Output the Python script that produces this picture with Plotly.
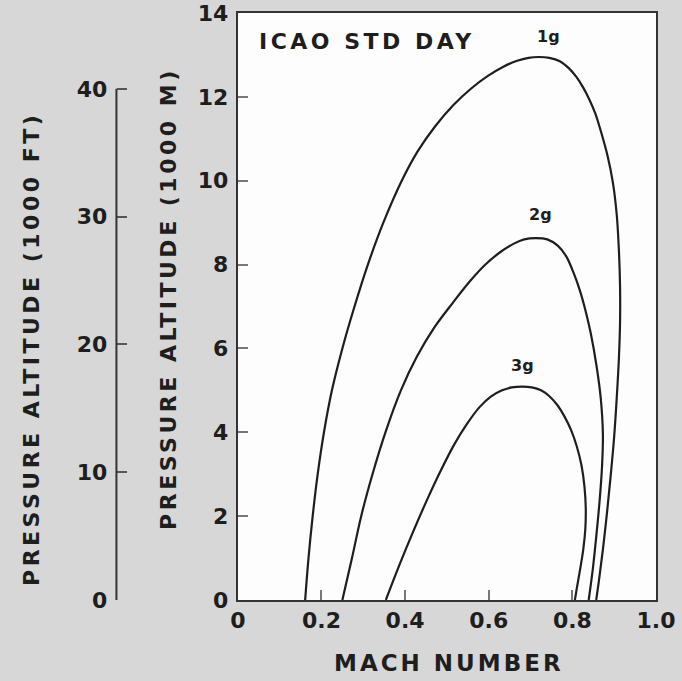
import plotly.graph_objects as go

# Load-factor boundaries: Mach number vs pressure altitude (1000 m)
mach_1g = [0.161, 0.169, 0.179, 0.191, 0.206, 0.225, 0.250, 0.279, 0.311, 0.348, 0.392,
           0.430, 0.472, 0.515, 0.558, 0.598, 0.635, 0.668, 0.695, 0.720,
           0.745, 0.770, 0.792, 0.810, 0.826, 0.840, 0.855, 0.869, 0.884, 0.897, 0.906,
           0.911, 0.914, 0.914, 0.911, 0.906, 0.900, 0.892, 0.883, 0.873, 0.864, 0.857]
alt_1g = [0.0, 1.0, 2.0, 3.0, 4.0, 5.0, 6.0, 7.0, 8.0, 9.0, 10.0,
          10.7, 11.3, 11.8, 12.2, 12.5, 12.72, 12.86, 12.93, 12.95,
          12.93, 12.85, 12.68, 12.47, 12.22, 11.95, 11.6, 11.15, 10.6, 9.95, 9.2,
          8.4, 7.5, 6.6, 5.7, 4.8, 3.9, 3.0, 2.1, 1.2, 0.5, 0.0]

mach_2g = [0.250, 0.273, 0.295, 0.322, 0.353, 0.390, 0.428, 0.470, 0.515, 0.555, 0.592,
           0.628, 0.660, 0.685, 0.712,
           0.740, 0.765, 0.785, 0.803, 0.819, 0.8315, 0.844, 0.858, 0.868, 0.873, 0.871,
           0.865, 0.857, 0.849, 0.839]
alt_2g = [0.0, 1.0, 2.0, 3.0, 4.0, 5.0, 5.8, 6.5, 7.1, 7.6, 8.0,
          8.3, 8.5, 8.6, 8.63,
          8.60, 8.45, 8.2, 7.8, 7.35, 6.9, 6.36, 5.57, 4.8, 3.95, 3.2,
          2.35, 1.5, 0.75, 0.0]

mach_3g = [0.354, 0.385, 0.418, 0.453, 0.486, 0.517, 0.548, 0.578, 0.605, 0.632, 0.655, 0.680,
           0.703, 0.725, 0.745, 0.764, 0.781, 0.797, 0.811, 0.822, 0.829, 0.832, 0.831,
           0.826, 0.818, 0.811, 0.806]
alt_3g = [0.0, 0.8, 1.6, 2.4, 3.1, 3.7, 4.2, 4.6, 4.85, 5.0, 5.07, 5.09,
          5.07, 5.0, 4.86, 4.65, 4.38, 4.05, 3.65, 3.2, 2.7, 2.2, 1.7,
          1.2, 0.7, 0.3, 0.0]

curve_names = ["1g", "2g", "3g"]
label_mach = [0.744, 0.724, 0.680]
label_alt = [13.44, 9.19, 5.59]

# Axis ticks
mach_ticks = [0, 0.2, 0.4, 0.6, 0.8, 1.0]
mach_ticktext = ["0", "0.2", "0.4", "0.6", "0.8", "1.0"]
alt_m_ticks = [0, 2, 4, 6, 8, 10, 12, 14]
alt_m_ticktext = ["0", "2", "4", "6", "8", "10", "12", "14"]
alt_ft_ticks = [0, 10, 20, 30, 40]
alt_ft_ticktext = ["0", "10", "20", "30", "40"]

FT_PER_M = 1 / 0.3048
ALT_M_MAX = 14

# Page geometry (pixels)
W, H = 682, 681
ML, MR, MT, MB = 20, 25.5, 13, 81
PW, PH = W - ML - MR, H - MT - MB
PLOT_LEFT_PX = 238
FT_AXIS_PX = 116.5


def px_x(px):
    return (px - ML) / PW


def px_y(py):
    return (H - MB - py) / PH


FONT = "DejaVu Sans, sans-serif"
INK = "#1e1e1e"


def spaced(s, sp):
    return f'<span style="letter-spacing:{sp}px">{s}</span>'


fig = go.Figure()
for xs, ys, nm in zip([mach_1g, mach_2g, mach_3g], [alt_1g, alt_2g, alt_3g], curve_names):
    fig.add_trace(go.Scatter(
        x=xs, y=ys, mode="lines", name=nm,
        line=dict(color=INK, width=2.2, shape="spline", smoothing=1.0),
        hoverinfo="skip", showlegend=False,
    ))

# Invisible trace so the feet axis is attached to the subplot
fig.add_trace(go.Scatter(x=[0.5], y=[0], yaxis="y2", mode="markers",
                         marker=dict(opacity=0), hoverinfo="skip", showlegend=False))

tick_font = dict(family=FONT, size=22, color=INK, weight="bold")

fig.update_layout(
    width=W, height=H,
    margin=dict(l=ML, r=MR, t=MT, b=MB, pad=0, autoexpand=False),
    paper_bgcolor="#d7d7d7",
    plot_bgcolor="#fdfdfd",
    showlegend=False,
    xaxis=dict(
        domain=[px_x(PLOT_LEFT_PX), 1],
        range=[0, 1.0],
        tickvals=mach_ticks,
        ticktext=mach_ticktext,
        ticks="inside", ticklen=10, tickwidth=1.5, tickcolor="#777",
        showline=True, linecolor="#333", linewidth=2, mirror=True,
        showgrid=False, zeroline=False, automargin=False,
        tickfont=tick_font,
        ticklabelstandoff=0,
    ),
    yaxis=dict(
        range=[0, ALT_M_MAX],
        tickvals=alt_m_ticks,
        ticktext=alt_m_ticktext,
        ticks="inside", ticklen=10, tickwidth=1.5, tickcolor="#777",
        showline=True, linecolor="#333", linewidth=2, mirror=True,
        showgrid=False, zeroline=False, automargin=False,
        tickfont=tick_font,
        ticklabelstandoff=3,
    ),
    yaxis2=dict(
        overlaying="y", anchor="free", side="left",
        position=px_x(FT_AXIS_PX),
        range=[0, ALT_M_MAX * FT_PER_M],
        tickvals=alt_ft_ticks,
        ticktext=alt_ft_ticktext,
        ticks="inside", ticklen=10, tickwidth=1.5, tickcolor="#555",
        showline=False, showgrid=False, zeroline=False, automargin=False,
        tickfont=tick_font,
        ticklabelstandoff=9,
    ),
)

# Feet scale spine, drawn only over its labelled span
fig.add_shape(type="line", xref="paper", yref="y2",
              x0=px_x(FT_AXIS_PX), x1=px_x(FT_AXIS_PX),
              y0=alt_ft_ticks[0], y1=alt_ft_ticks[-1],
              line=dict(color="#333", width=2))

title_font = dict(family=FONT, size=22, color=INK, weight="bold")

# Axis titles
fig.add_annotation(text=spaced("MACH NUMBER", 3), xref="paper", yref="paper",
                   x=px_x(449), y=px_y(663), showarrow=False,
                   font=dict(family=FONT, size=23, color=INK, weight="bold"),
                   xanchor="center", yanchor="middle")
fig.add_annotation(text=spaced("PRESSURE ALTITUDE (1000 M)", 3.5), xref="paper", yref="paper",
                   x=px_x(168), y=px_y(298), showarrow=False, font=title_font,
                   textangle=-90, xanchor="center", yanchor="middle")
fig.add_annotation(text=spaced("PRESSURE ALTITUDE (1000 FT)", 3.5), xref="paper", yref="paper",
                   x=px_x(31), y=px_y(349), showarrow=False, font=title_font,
                   textangle=-90, xanchor="center", yanchor="middle")

# In-plot text
fig.add_annotation(text=spaced("ICAO STD DAY", 3.5), xref="x", yref="y",
                   x=0.047, y=13.32, showarrow=False, font=title_font,
                   xanchor="left", yanchor="middle")
for nm, lx, ly in zip(curve_names, label_mach, label_alt):
    fig.add_annotation(text=nm, xref="x", yref="y", x=lx, y=ly,
                       showarrow=False, xanchor="center", yanchor="middle",
                       font=dict(family=FONT, size=16, color=INK, weight="bold"))

fig.write_html("out.html")
